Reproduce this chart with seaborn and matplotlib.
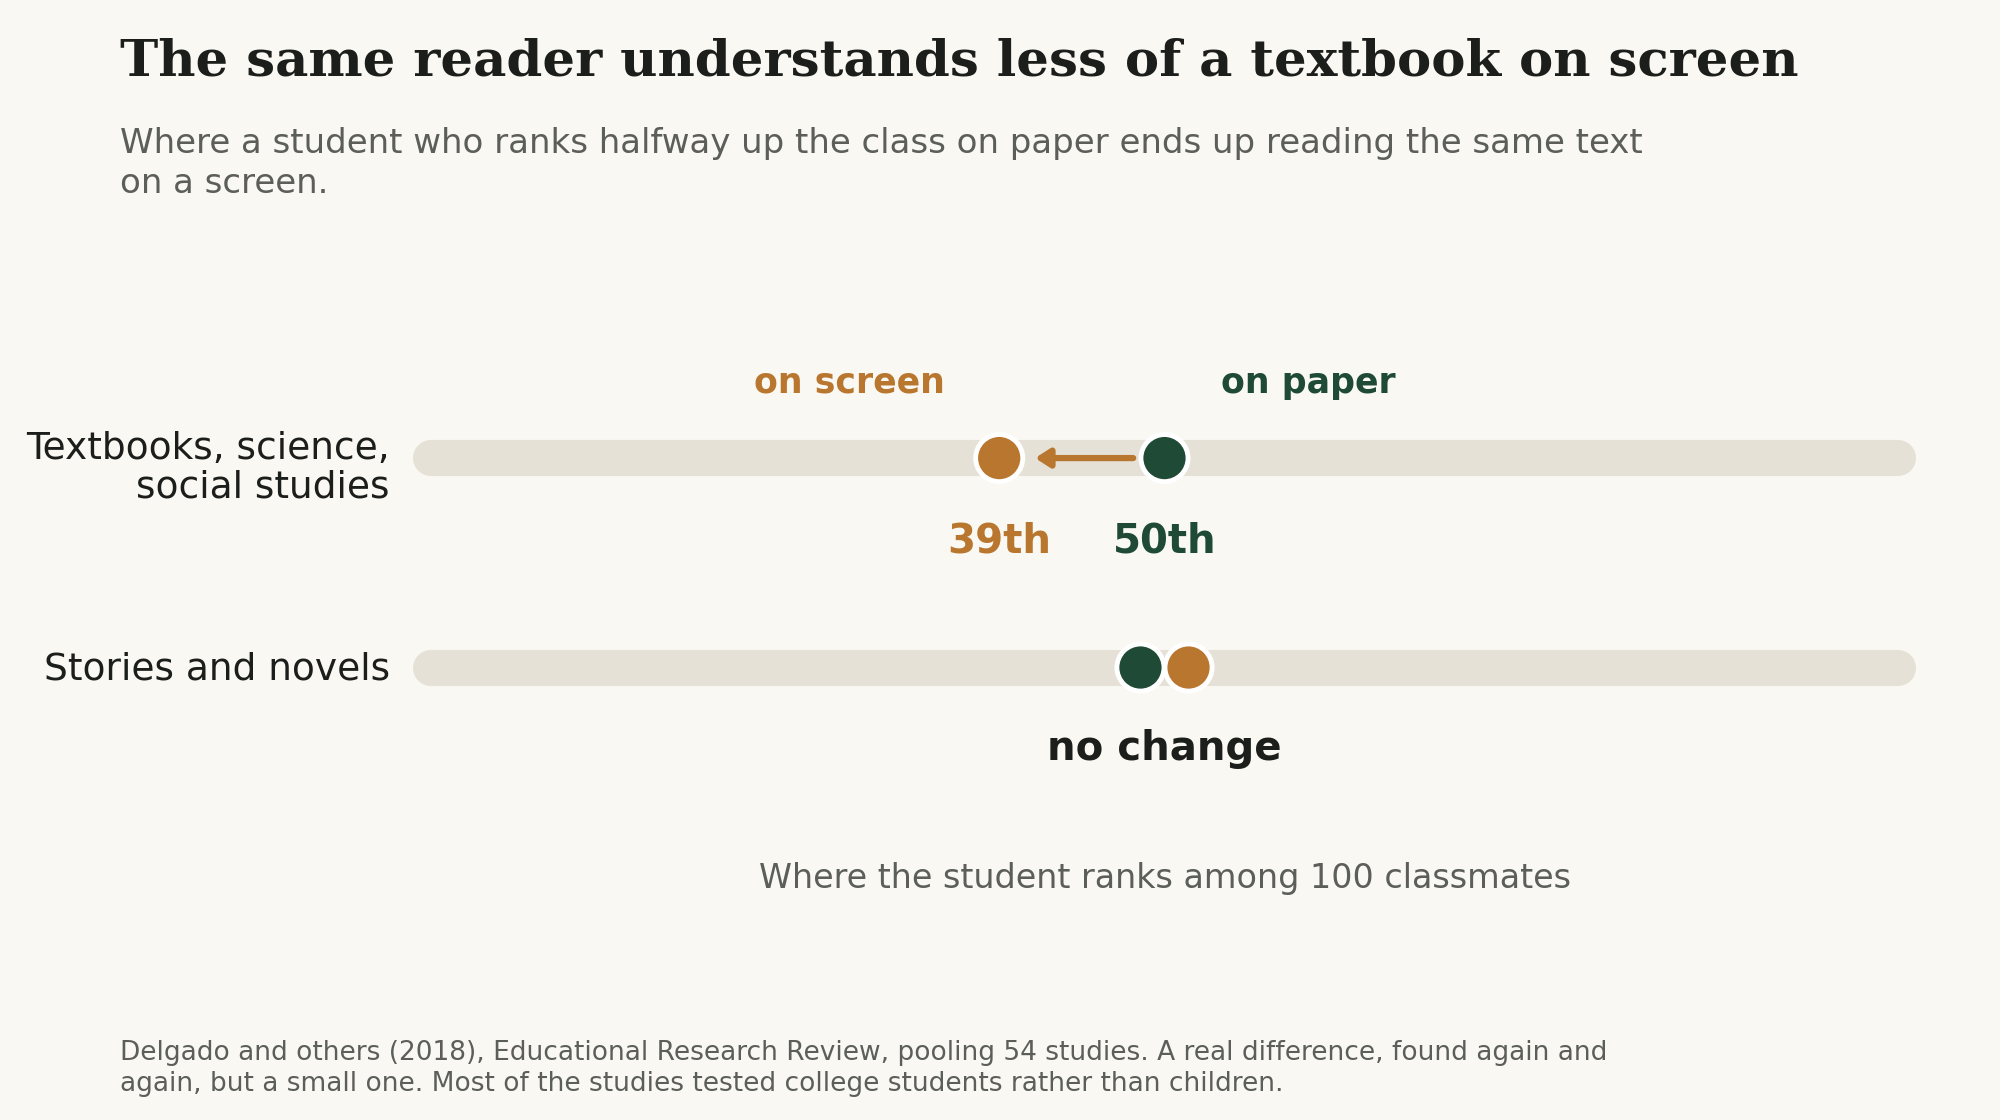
import matplotlib
matplotlib.use("Agg")
import matplotlib.pyplot as plt
import seaborn as sns
import pandas as pd

categories = ["Textbooks, science,\nsocial studies", "Stories and novels"]
paper_rank = [50, 50]
screen_rank = [39, 50]
rank_labels = ["39th", "50th"]

BG = "#f9f8f3"; ORANGE = "#b8762e"; GREEN = "#1f4a36"; TRACK = "#e6e1d6"
INK = "#1c1e1b"; GRAY = "#5b5e59"

sns.set_theme(style="white")
plt.rcParams['font.family'] = ['DejaVu Sans']

fig = plt.figure(figsize=(20, 11.2), dpi=100, facecolor=BG)
ax = fig.add_axes([0.2066, 0.217, 0.7513, 0.561])
ax.set_facecolor(BG)
ax.set_xlim(0, 100)
ax.set_ylim(2, -1)
ax.axis("off")

for i in range(len(categories)):
    ax.plot([1.2, 98.8], [i, i], color=TRACK, lw=26, solid_capstyle="round", zorder=1)

# dodge for overlapping points in "no change" row (style offset)
rows = []
for i, c in enumerate(categories):
    same = paper_rank[i] == screen_rank[i]
    rows.append(dict(y=i, x=paper_rank[i] - (1.6 if same else 0), kind="paper"))
    rows.append(dict(y=i, x=screen_rank[i] + (1.6 if same else 0), kind="screen"))
df = pd.DataFrame(rows)
sns.scatterplot(data=df, x="x", y="y", hue="kind", palette={"paper": GREEN, "screen": ORANGE},
                s=1150, edgecolor="white", linewidth=3.5, legend=False, ax=ax, zorder=3)

ax.annotate("", xy=(screen_rank[0] + 2.2, 0), xytext=(paper_rank[0] - 1.9, 0),
            arrowprops=dict(arrowstyle="-|>,head_length=0.7,head_width=0.45", color=ORANGE, lw=4.5),
            zorder=2)

ax.text(screen_rank[0], 0.4, rank_labels[0], color=ORANGE, fontsize=29, fontweight="bold", ha="center", va="center")
ax.text(paper_rank[0], 0.4, rank_labels[1], color=GREEN, fontsize=29, fontweight="bold", ha="center", va="center")
ax.text(paper_rank[1], 1.39, "no change", color=INK, fontsize=29, fontweight="bold", ha="center", va="center")
ax.text(29.0, -0.36, "on screen", color=ORANGE, fontsize=25, fontweight="bold", ha="center", va="center")
ax.text(59.6, -0.36, "on paper", color=GREEN, fontsize=25, fontweight="bold", ha="center", va="center")

fig.text(0.195, 0.582, categories[0], ha="right", va="center", fontsize=27, color=INK, linespacing=1.1)
fig.text(0.195, 0.402, categories[1], ha="right", va="center", fontsize=27, color=INK)

fig.text(0.5823, 0.216, "Where the student ranks among 100 classmates", ha="center", va="center", fontsize=24, color=GRAY)

fig.text(0.06, 0.945, "The same reader understands less of a textbook on screen", family="DejaVu Serif",
         fontweight="bold", fontsize=37, color=INK, va="center")
fig.text(0.06, 0.854, "Where a student who ranks halfway up the class on paper ends up reading the same text\non a screen.",
         fontsize=24.5, color=GRAY, va="center", linespacing=1.25)
fig.text(0.06, 0.046, "Delgado and others (2018), Educational Research Review, pooling 54 studies. A real difference, found again and\nagain, but a small one. Most of the studies tested college students rather than children.",
         fontsize=19, color=GRAY, va="center", linespacing=1.25)

fig.savefig("out.png", dpi=100, facecolor=BG)
